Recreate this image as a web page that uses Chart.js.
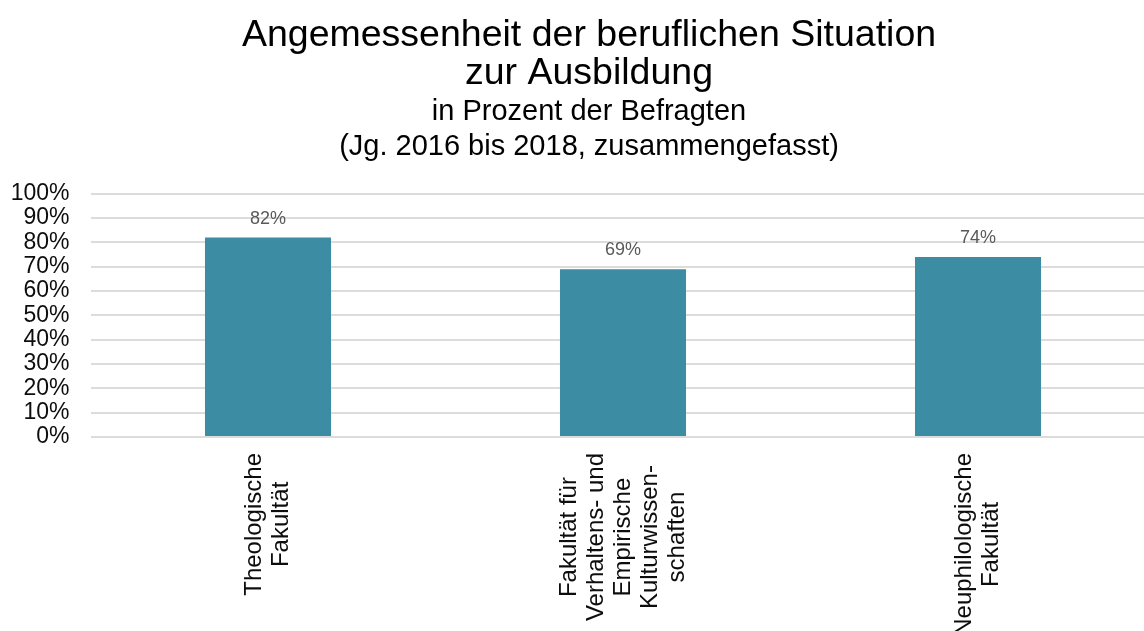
<!DOCTYPE html>
<html lang="de">
<head>
<meta charset="utf-8">
<title>Angemessenheit der beruflichen Situation zur Ausbildung</title>
<script src="https://cdn.jsdelivr.net/npm/chart.js@4.4.1/dist/chart.umd.min.js"></script>
<style>
  html, body { margin: 0; padding: 0; background: #fff; overflow: hidden; }
  #wrap { width: 1144px; height: 631px; overflow: hidden; }
  canvas { display: block; }
</style>
</head>
<body>
<div id="wrap">
  <canvas id="chart" width="1178" height="631"></canvas>
</div>
<script>
// Daten
const categories = [
    ['Theologische', 'Fakultät'],
    ['Fakultät für', 'Verhaltens- und', 'Empirische', 'Kulturwissen-', 'schaften'],
    ['Neuphilologische', 'Fakultät']
];
const values = [82, 69, 74];
const yTicks = [0, 10, 20, 30, 40, 50, 60, 70, 80, 90, 100];

const titleLines = ['Angemessenheit der beruflichen Situation', 'zur Ausbildung'];
const subtitleLines = ['in Prozent der Befragten', '(Jg. 2016 bis 2018, zusammengefasst)'];

const FONT = "'Liberation Sans', Arial, Helvetica, sans-serif";
const BAR_COLOR = '#3c8ca4';

// y-Achse bis zum linken Rand öffnen, sonst wird "100%" abgeschnitten
const widenYAxis = {
    id: 'widenYAxis',
    afterLayout(chart) {
        chart.scales.y.left = 0;
    }
};

// Werte über den Balken
const valueLabels = {
    id: 'valueLabels',
    afterDatasetsDraw(chart) {
        const ctx = chart.ctx;
        const meta = chart.getDatasetMeta(0);
        ctx.save();
        ctx.font = '18px ' + FONT;
        ctx.fillStyle = '#595959';
        ctx.textAlign = 'center';
        ctx.textBaseline = 'alphabetic';
        meta.data.forEach((bar, i) => {
            ctx.fillText(values[i] + '%', bar.x, bar.y - 14);
        });
        ctx.restore();
    }
};

// gedrehte, zentrierte Achsenbeschriftung
const rotatedLabels = {
    id: 'rotatedLabels',
    afterDraw(chart) {
        const ctx = chart.ctx;
        const xScale = chart.scales.x;
        const lh = 27;
        const top = chart.chartArea.bottom + 16;
        ctx.save();
        ctx.font = '24px ' + FONT;
        ctx.fillStyle = '#0d0d0d';
        ctx.textAlign = 'center';
        ctx.textBaseline = 'middle';
        categories.forEach((lines, i) => {
            const cx = xScale.getPixelForValue(i);
            const w = Math.max(...lines.map(l => ctx.measureText(l).width));
            const cy = top + w / 2;
            const x0 = cx - (lines.length - 1) * lh / 2;
            lines.forEach((line, j) => {
                ctx.save();
                ctx.translate(x0 + j * lh, cy);
                ctx.rotate(-Math.PI / 2);
                ctx.fillText(line, 0, 0);
                ctx.restore();
            });
        });
        ctx.restore();
    }
};

new Chart(document.getElementById('chart'), {
    type: 'bar',
    data: {
        labels: categories.map(c => c.join(' ')),
        datasets: [{
            data: values,
            backgroundColor: BAR_COLOR,
            borderWidth: 0,
            barPercentage: 0.355,
            categoryPercentage: 1.0
        }]
    },
    options: {
        responsive: false,
        animation: false,
        // left = right, damit der Titel mittig über der Seite steht
        layout: { padding: { left: 22.5, right: 22.5, top: 0, bottom: 0 } },
        plugins: {
            legend: { display: false },
            tooltip: { enabled: false },
            title: {
                display: true,
                text: titleLines,
                color: '#000',
                font: { family: FONT, size: 37.5, weight: 'normal', lineHeight: 1.0 },
                padding: { top: 17, bottom: 0 }
            },
            subtitle: {
                display: true,
                text: subtitleLines,
                color: '#000',
                font: { family: FONT, size: 29, weight: 'normal', lineHeight: 1.207 },
                padding: { top: 2, bottom: 29.8 }
            }
        },
        scales: {
            x: {
                grid: { display: false },
                border: { display: false },
                ticks: { display: false },
                afterFit(scale) { scale.height = 194; }
            },
            y: {
                min: 0,
                max: 100,
                afterBuildTicks(scale) {
                    scale.ticks = yTicks.map(v => ({ value: v }));
                },
                afterFit(scale) { scale.width = 68; },
                grid: { color: '#dcdcdc', lineWidth: 2, drawTicks: false },
                border: { display: false },
                ticks: {
                    autoSkip: false,
                    padding: 21,
                    color: '#0d0d0d',
                    font: { family: FONT, size: 23 },
                    callback: v => v + '%'
                }
            }
        }
    },
    plugins: [widenYAxis, valueLabels, rotatedLabels]
});
</script>
</body>
</html>
